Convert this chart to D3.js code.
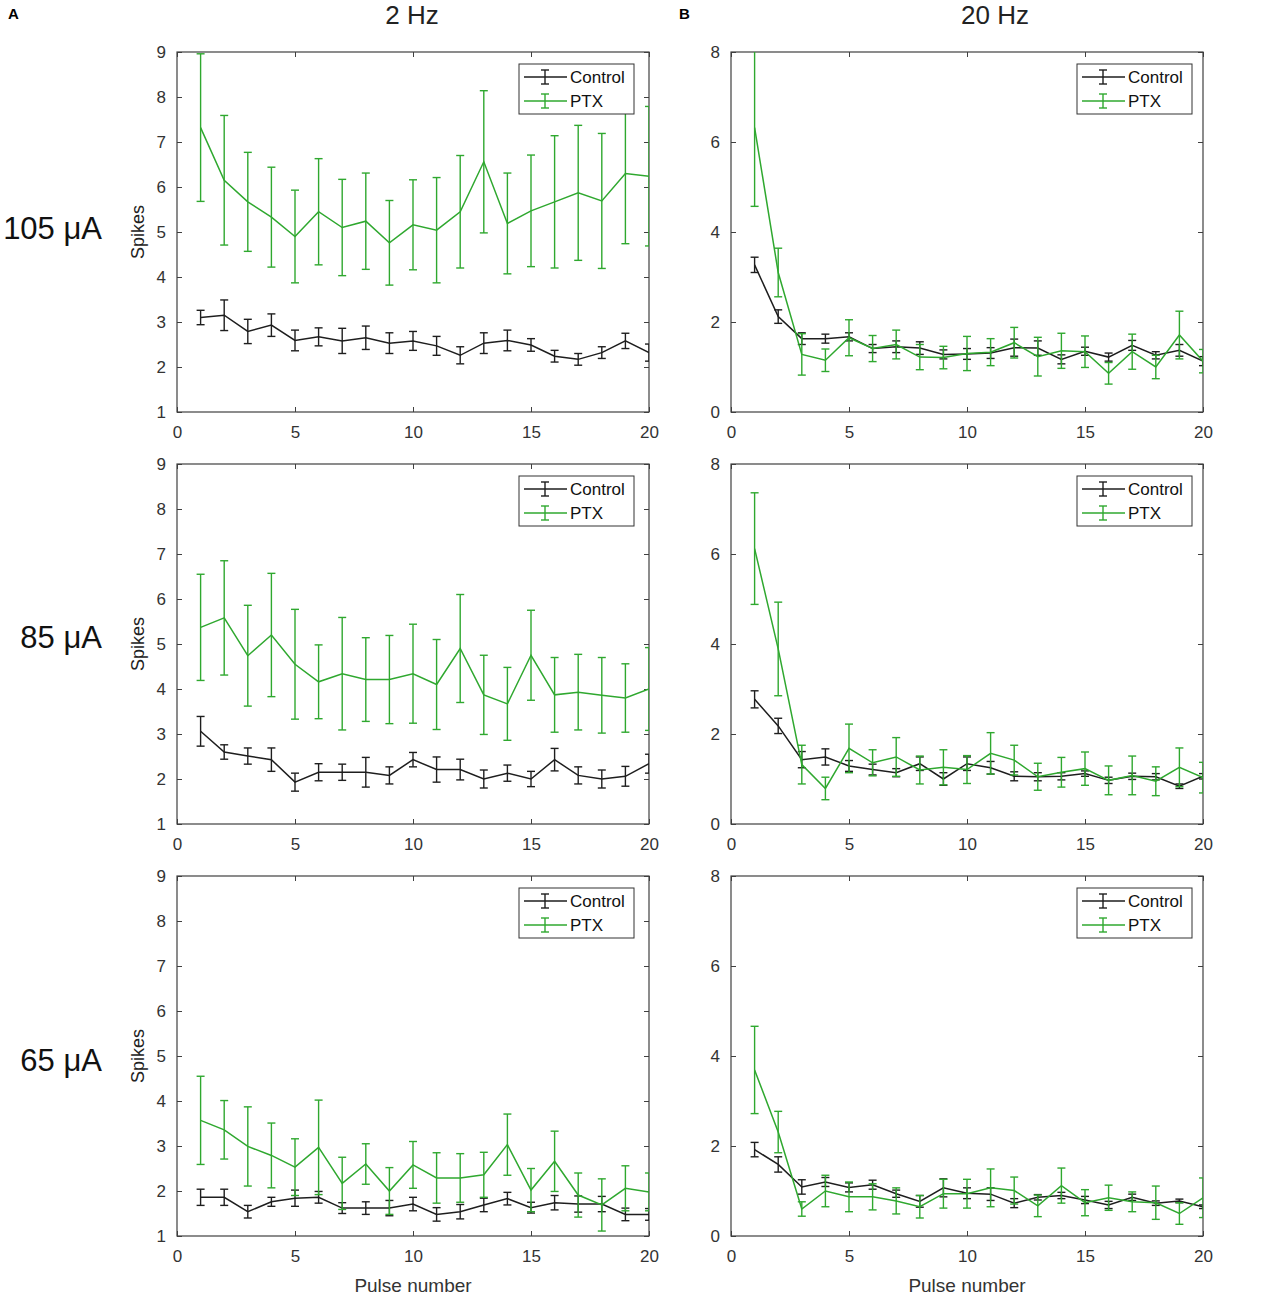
<!DOCTYPE html>
<html>
<head>
<meta charset="utf-8">
<script src="https://cdn.jsdelivr.net/npm/d3@7"></script>
<style>
  body { margin: 0; background: #fff; }
  text { font-family: "Liberation Sans", Arial, sans-serif; }
</style>
</head>
<body>
<div id="chart"></div>
<script>
// pulse numbers along the x axis
const pulses = [1, 2, 3, 4, 5, 6, 7, 8, 9, 10, 11, 12, 13, 14, 15, 16, 17, 18, 19, 20];
const xTicks = [0, 5, 10, 15, 20];
const yTicksLeft = [1, 2, 3, 4, 5, 6, 7, 8, 9];
const yTicksRight = [0, 2, 4, 6, 8];
const seriesNames = ["Control", "PTX"];
const columnTitles = ["2 Hz", "20 Hz"];
const rowLabels = ["105 \u03bcA", "85 \u03bcA", "65 \u03bcA"];

// 2 Hz, 105 uA
const ctrl2Hz105 = [3.1, 3.15, 2.79, 2.93, 2.59, 2.67, 2.58, 2.65, 2.53, 2.58, 2.47, 2.26, 2.53, 2.59, 2.49, 2.24, 2.17, 2.32, 2.58, 2.32];
const ctrl2Hz105Err = [0.16, 0.34, 0.27, 0.25, 0.23, 0.2, 0.28, 0.26, 0.23, 0.21, 0.21, 0.19, 0.23, 0.23, 0.14, 0.13, 0.13, 0.13, 0.17, 0.19];
const ptx2Hz105 = [7.32, 6.15, 5.67, 5.33, 4.9, 5.45, 5.1, 5.24, 4.76, 5.16, 5.04, 5.45, 6.56, 5.19, 5.47, 5.67, 5.87, 5.69, 6.3, 6.24];
const ptx2Hz105Err = [1.64, 1.44, 1.1, 1.11, 1.03, 1.18, 1.07, 1.07, 0.94, 1.0, 1.17, 1.25, 1.58, 1.12, 1.24, 1.47, 1.5, 1.5, 1.56, 1.55];

// 20 Hz, 105 uA
const ctrl20Hz105 = [3.27, 2.12, 1.63, 1.63, 1.67, 1.41, 1.45, 1.42, 1.28, 1.29, 1.31, 1.43, 1.42, 1.17, 1.35, 1.22, 1.48, 1.26, 1.37, 1.13];
const ctrl20Hz105Err = [0.17, 0.15, 0.13, 0.1, 0.09, 0.09, 0.13, 0.14, 0.1, 0.12, 0.12, 0.19, 0.16, 0.1, 0.09, 0.09, 0.11, 0.08, 0.13, 0.1];
const ptx20Hz105 = [6.32, 3.1, 1.28, 1.15, 1.65, 1.41, 1.5, 1.22, 1.21, 1.3, 1.33, 1.54, 1.23, 1.36, 1.34, 0.86, 1.34, 1.0, 1.71, 1.13];
const ptx20Hz105Err = [1.75, 0.54, 0.46, 0.25, 0.4, 0.29, 0.32, 0.28, 0.25, 0.38, 0.3, 0.34, 0.43, 0.39, 0.35, 0.24, 0.39, 0.26, 0.53, 0.26];

// 2 Hz, 85 uA
const ctrl2Hz85 = [3.06, 2.6, 2.51, 2.43, 1.93, 2.15, 2.15, 2.15, 2.08, 2.43, 2.21, 2.21, 2.0, 2.13, 2.0, 2.43, 2.08, 2.0, 2.06, 2.34];
const ctrl2Hz85Err = [0.33, 0.16, 0.18, 0.26, 0.2, 0.19, 0.18, 0.33, 0.19, 0.16, 0.28, 0.23, 0.2, 0.18, 0.17, 0.25, 0.19, 0.2, 0.22, 0.21];
const ptx2Hz85 = [5.37, 5.58, 4.74, 5.2, 4.55, 4.16, 4.34, 4.21, 4.21, 4.34, 4.1, 4.9, 3.87, 3.67, 4.75, 3.87, 3.93, 3.86, 3.8, 4.0];
const ptx2Hz85Err = [1.18, 1.27, 1.12, 1.37, 1.22, 0.82, 1.25, 0.93, 0.98, 1.1, 1.0, 1.2, 0.88, 0.81, 1.0, 0.83, 0.84, 0.84, 0.76, 0.92];

// 20 Hz, 85 uA
const ctrl20Hz85 = [2.77, 2.18, 1.43, 1.49, 1.29, 1.21, 1.14, 1.34, 1.0, 1.34, 1.25, 1.06, 1.05, 1.06, 1.12, 0.97, 1.06, 1.05, 0.84, 1.06];
const ctrl20Hz85Err = [0.19, 0.17, 0.18, 0.18, 0.12, 0.12, 0.09, 0.15, 0.14, 0.15, 0.14, 0.1, 0.09, 0.08, 0.06, 0.07, 0.07, 0.07, 0.05, 0.06];
const ptx20Hz85 = [6.12, 3.89, 1.32, 0.79, 1.68, 1.36, 1.49, 1.2, 1.26, 1.21, 1.57, 1.42, 1.05, 1.15, 1.23, 0.97, 1.08, 0.95, 1.26, 1.03];
const ptx20Hz85Err = [1.24, 1.04, 0.43, 0.25, 0.54, 0.29, 0.43, 0.31, 0.39, 0.31, 0.46, 0.33, 0.3, 0.33, 0.37, 0.32, 0.43, 0.32, 0.43, 0.34];

// 2 Hz, 65 uA
const ctrl2Hz65 = [1.86, 1.86, 1.54, 1.76, 1.84, 1.86, 1.62, 1.62, 1.62, 1.71, 1.48, 1.54, 1.69, 1.83, 1.63, 1.74, 1.71, 1.71, 1.48, 1.48];
const ctrl2Hz65Err = [0.18, 0.18, 0.14, 0.1, 0.18, 0.13, 0.12, 0.14, 0.17, 0.15, 0.15, 0.16, 0.15, 0.14, 0.12, 0.16, 0.18, 0.17, 0.14, 0.13];
const ptx2Hz65 = [3.57, 3.36, 2.99, 2.79, 2.53, 2.97, 2.17, 2.6, 2.0, 2.58, 2.29, 2.29, 2.36, 3.03, 2.02, 2.66, 1.91, 1.69, 2.06, 1.98];
const ptx2Hz65Err = [0.98, 0.65, 0.88, 0.72, 0.63, 1.05, 0.58, 0.45, 0.52, 0.52, 0.56, 0.54, 0.5, 0.68, 0.48, 0.67, 0.49, 0.58, 0.5, 0.42];

// 20 Hz, 65 uA
const ctrl20Hz65 = [1.92, 1.59, 1.09, 1.2, 1.08, 1.14, 0.94, 0.77, 1.07, 0.95, 0.93, 0.73, 0.86, 0.9, 0.8, 0.69, 0.86, 0.73, 0.78, 0.65];
const ctrl20Hz65Err = [0.16, 0.17, 0.16, 0.1, 0.1, 0.1, 0.08, 0.13, 0.2, 0.12, 0.14, 0.1, 0.06, 0.07, 0.08, 0.08, 0.07, 0.05, 0.04, 0.04];
const ptx20Hz65 = [3.69, 2.31, 0.6, 1.0, 0.87, 0.87, 0.78, 0.65, 0.94, 0.94, 1.07, 1.01, 0.67, 1.12, 0.74, 0.85, 0.76, 0.74, 0.5, 0.85];
const ptx20Hz65Err = [0.97, 0.46, 0.16, 0.35, 0.33, 0.29, 0.29, 0.25, 0.32, 0.32, 0.42, 0.3, 0.24, 0.39, 0.29, 0.28, 0.22, 0.37, 0.24, 0.44];

const width = 1262;
const height = 1300;
const colors = { Control: '#1e1e1e', PTX: '#2fa82f' };
const axisColor = '#404040';

const colX = [177, 731];
const rowY = [52, 464, 876];
const panelW = 472;
const panelH = 360;
const titleX = [412, 995];
const legendGap = [15, 11];
const rowLabelY = [239, 648, 1071];

const panels = [
  { col: 0, row: 0, yDomain: [1, 9], yTicks: yTicksLeft, ctrl: ctrl2Hz105, ctrlErr: ctrl2Hz105Err, ptx: ptx2Hz105, ptxErr: ptx2Hz105Err },
  { col: 1, row: 0, yDomain: [0, 8], yTicks: yTicksRight, ctrl: ctrl20Hz105, ctrlErr: ctrl20Hz105Err, ptx: ptx20Hz105, ptxErr: ptx20Hz105Err },
  { col: 0, row: 1, yDomain: [1, 9], yTicks: yTicksLeft, ctrl: ctrl2Hz85, ctrlErr: ctrl2Hz85Err, ptx: ptx2Hz85, ptxErr: ptx2Hz85Err },
  { col: 1, row: 1, yDomain: [0, 8], yTicks: yTicksRight, ctrl: ctrl20Hz85, ctrlErr: ctrl20Hz85Err, ptx: ptx20Hz85, ptxErr: ptx20Hz85Err },
  { col: 0, row: 2, yDomain: [1, 9], yTicks: yTicksLeft, ctrl: ctrl2Hz65, ctrlErr: ctrl2Hz65Err, ptx: ptx2Hz65, ptxErr: ptx2Hz65Err },
  { col: 1, row: 2, yDomain: [0, 8], yTicks: yTicksRight, ctrl: ctrl20Hz65, ctrlErr: ctrl20Hz65Err, ptx: ptx20Hz65, ptxErr: ptx20Hz65Err }
];

const svg = d3.select('#chart')
  .append('svg')
  .attr('width', width)
  .attr('height', height)
  .attr('viewBox', `0 0 ${width} ${height}`);

svg.append('rect').attr('width', width).attr('height', height).attr('fill', '#fff');

const defs = svg.append('defs');

function drawPanel(p, i) {
  const x0 = colX[p.col];
  const y0 = rowY[p.row];
  const x = d3.scaleLinear().domain([0, 20]).range([0, panelW]);
  const y = d3.scaleLinear().domain(p.yDomain).range([panelH, 0]);

  const g = svg.append('g')
    .attr('class', 'panel')
    .attr('transform', `translate(${x0},${y0})`);

  defs.append('clipPath')
    .attr('id', 'clip' + i)
    .append('rect')
    .attr('width', panelW)
    .attr('height', panelH);

  // axes with inward ticks on all four sides
  const styleAxis = sel => {
    sel.select('.domain').remove();
    sel.selectAll('line').attr('stroke', axisColor).attr('stroke-width', 1);
    sel.selectAll('text')
      .attr('font-size', 17)
      .attr('fill', '#333')
      .attr('font-family', '"Liberation Sans", Arial, sans-serif');
  };

  g.append('g')
    .attr('transform', `translate(0,${panelH})`)
    .call(d3.axisBottom(x).tickValues(xTicks).tickSizeInner(-5).tickSizeOuter(0).tickPadding(14))
    .call(styleAxis);
  g.append('g')
    .call(d3.axisTop(x).tickValues(xTicks).tickSizeInner(-5).tickSizeOuter(0).tickFormat(''))
    .call(styleAxis);
  g.append('g')
    .call(d3.axisLeft(y).tickValues(p.yTicks).tickSizeInner(-5).tickSizeOuter(0).tickPadding(11))
    .call(styleAxis);
  g.append('g')
    .attr('transform', `translate(${panelW},0)`)
    .call(d3.axisRight(y).tickValues(p.yTicks).tickSizeInner(-5).tickSizeOuter(0).tickFormat(''))
    .call(styleAxis);

  g.append('rect')
    .attr('width', panelW)
    .attr('height', panelH)
    .attr('fill', 'none')
    .attr('stroke', axisColor)
    .attr('stroke-width', 1.2);

  const plot = g.append('g').attr('clip-path', `url(#clip${i})`);

  const series = [
    { name: 'Control', mean: p.ctrl, err: p.ctrlErr },
    { name: 'PTX', mean: p.ptx, err: p.ptxErr }
  ];

  series.forEach(s => {
    const pts = pulses.map((n, k) => ({ n: n, m: s.mean[k], e: s.err[k] }));
    const color = colors[s.name];
    const line = d3.line().x(d => x(d.n)).y(d => y(d.m));

    plot.append('path')
      .datum(pts)
      .attr('fill', 'none')
      .attr('stroke', color)
      .attr('stroke-width', 1.5)
      .attr('d', line);

    const bars = plot.append('g').attr('class', 'errorbars');
    bars.selectAll('.ebar')
      .data(pts)
      .join('line')
      .attr('class', 'ebar')
      .attr('x1', d => x(d.n)).attr('x2', d => x(d.n))
      .attr('y1', d => y(d.m - d.e)).attr('y2', d => y(d.m + d.e))
      .attr('stroke', color).attr('stroke-width', 1.4);
    [-1, 1].forEach(sign => {
      bars.selectAll('.cap' + (sign > 0 ? 'u' : 'l'))
        .data(pts)
        .join('line')
        .attr('x1', d => x(d.n) - 4).attr('x2', d => x(d.n) + 4)
        .attr('y1', d => y(d.m + sign * d.e)).attr('y2', d => y(d.m + sign * d.e))
        .attr('stroke', color).attr('stroke-width', 1.4);
    });
  });

  // legend
  const lw = 115, lh = 50;
  const lg = g.append('g').attr('transform', `translate(${panelW - lw - legendGap[p.col]},12)`);
  lg.append('rect')
    .attr('width', lw).attr('height', lh)
    .attr('fill', '#fff').attr('stroke', '#333').attr('stroke-width', 1);
  seriesNames.forEach((name, k) => {
    const ly = 13 + k * 24;
    const c = colors[name];
    lg.append('line').attr('x1', 5).attr('x2', 48).attr('y1', ly).attr('y2', ly)
      .attr('stroke', c).attr('stroke-width', 1.4);
    lg.append('line').attr('x1', 26).attr('x2', 26).attr('y1', ly - 7).attr('y2', ly + 7)
      .attr('stroke', c).attr('stroke-width', 1.4);
    lg.append('line').attr('x1', 22).attr('x2', 30).attr('y1', ly - 7).attr('y2', ly - 7)
      .attr('stroke', c).attr('stroke-width', 1.4);
    lg.append('line').attr('x1', 22).attr('x2', 30).attr('y1', ly + 7).attr('y2', ly + 7)
      .attr('stroke', c).attr('stroke-width', 1.4);
    lg.append('text').attr('x', 51).attr('y', ly + 6)
      .attr('font-size', 17).attr('fill', '#111')
      .text(name);
  });

  if (p.col === 0) {
    g.append('text')
      .attr('transform', `translate(-33,${panelH / 2}) rotate(-90)`)
      .attr('text-anchor', 'middle')
      .attr('font-size', 18)
      .attr('fill', '#222')
      .text('Spikes');
  }
  if (p.row === 2) {
    g.append('text')
      .attr('x', panelW / 2)
      .attr('y', panelH + 56)
      .attr('text-anchor', 'middle')
      .attr('font-size', 19)
      .attr('fill', '#333')
      .text('Pulse number');
  }
}

panels.forEach(drawPanel);

// column titles and panel letters
columnTitles.forEach((t, k) => {
  svg.append('text')
    .attr('x', titleX[k])
    .attr('y', 24)
    .attr('text-anchor', 'middle')
    .attr('font-size', 26)
    .attr('fill', '#222')
    .text(t);
});
svg.append('text').attr('x', 8).attr('y', 19).attr('font-size', 15).attr('font-weight', 'bold').text('A');
svg.append('text').attr('x', 679).attr('y', 19).attr('font-size', 15).attr('font-weight', 'bold').text('B');

// row labels
rowLabels.forEach((t, k) => {
  svg.append('text')
    .attr('x', 102)
    .attr('y', rowLabelY[k])
    .attr('text-anchor', 'end')
    .attr('font-size', 31)
    .attr('fill', '#111')
    .text(t);
});
</script>
</body>
</html>
